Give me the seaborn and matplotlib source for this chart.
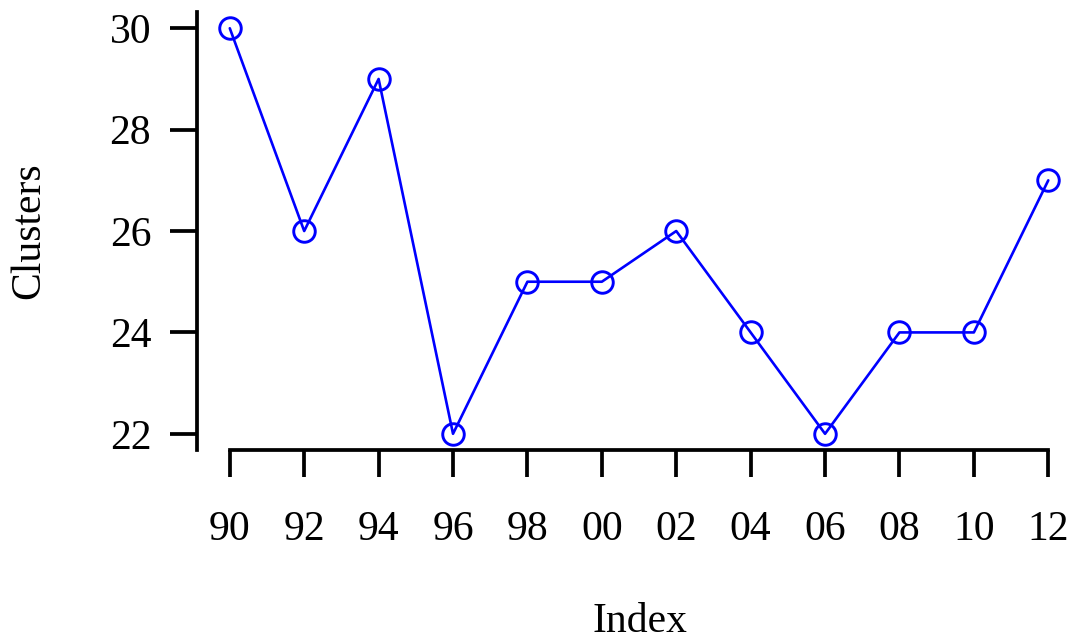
import matplotlib
matplotlib.use("Agg")
import matplotlib.pyplot as plt
import seaborn as sns
import pandas as pd
import numpy as np

# Cluster counts per two-year step
years = ["90", "92", "94", "96", "98", "00", "02", "04", "06", "08", "10", "12"]
clusters = [30, 26, 29, 22, 25, 25, 26, 24, 22, 24, 24, 27]
y_ticks = [22, 24, 26, 28, 30]

sns.set_style("ticks")
plt.rcParams["font.family"] = ["Liberation Serif", "DejaVu Serif"]
plt.rcParams["text.color"] = "black"
plt.rcParams["axes.labelcolor"] = "black"

df = pd.DataFrame({"idx": np.arange(len(years)), "clusters": clusters})

fig = plt.figure(figsize=(10.75, 6.44), dpi=100)
ax = fig.add_axes([0.1833, 0.3012, 0.8223, 0.6801])

sns.lineplot(data=df, x="idx", y="clusters", ax=ax, color="#0000FF",
             linewidth=1.9, marker="o", markersize=15.5,
             markerfacecolor="none", markeredgecolor="#0000FF",
             markeredgewidth=2.1, clip_on=False)

n = len(years)
pad_x = 0.04 * (n - 1)
ax.set_xlim(-pad_x, (n - 1) + pad_x)
rng = max(clusters) - min(clusters)
ax.set_ylim(min(clusters) - 0.04 * rng, max(clusters) + 0.04 * rng)

ax.set_xticks(df["idx"])
ax.set_xticklabels(years)
ax.set_yticks(y_ticks)
ax.set_yticklabels([str(v) for v in y_ticks])

for side in ("top", "right"):
    ax.spines[side].set_visible(False)
ax.spines["bottom"].set_bounds(0, n - 1)
for side in ("left", "bottom"):
    ax.spines[side].set_linewidth(2.7)
    ax.spines[side].set_color("black")

ax.tick_params(axis="both", length=19.5, width=2.7, color="black",
               labelsize=30, labelcolor="black")
ax.tick_params(axis="x", pad=24)
ax.tick_params(axis="y", pad=13.5)

ax.set_xlabel("")
ax.set_ylabel("Clusters", fontsize=30, labelpad=44, color="black")
fig.text(640 / 1075, 1 - 622 / 644, "Index", fontsize=30, color="black",
         ha="center", va="center")
ax.grid(False)

fig.savefig("out.png", dpi=100, facecolor="white")
